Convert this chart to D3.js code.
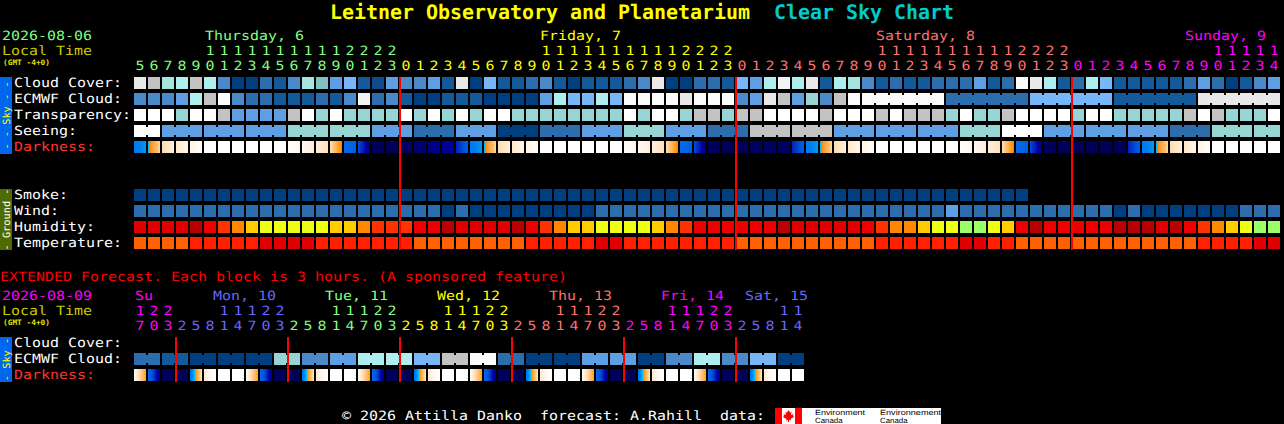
<!DOCTYPE html>
<html><head><meta charset="utf-8">
<script src="https://cdn.jsdelivr.net/npm/d3@7"></script>
<style>
html,body{margin:0;padding:0;background:#000;overflow:hidden}
svg{display:block}
text{font-family:"DejaVu Sans Mono",monospace;font-size:12.8px;white-space:pre;text-rendering:geometricPrecision}
</style></head><body>
<script>
// ---------- main forecast: 82 hourly blocks ----------
const hours=[5,6,7,8,9,10,11,12,13,14,15,16,17,18,19,20,21,22,23,
0,1,2,3,4,5,6,7,8,9,10,11,12,13,14,15,16,17,18,19,20,21,22,23,
0,1,2,3,4,5,6,7,8,9,10,11,12,13,14,15,16,17,18,19,20,21,22,23,
0,1,2,3,4,5,6,7,8,9,10,11,12,13,14];
const hourDays=[0,0,0,0,0,0,0,0,0,0,0,0,0,0,0,0,0,0,0,
1,1,1,1,1,1,1,1,1,1,1,1,1,1,1,1,1,1,1,1,1,1,1,1,
2,2,2,2,2,2,2,2,2,2,2,2,2,2,2,2,2,2,2,2,2,2,2,2,
3,3,3,3,3,3,3,3,3,3,3,3,3,3,3];
const dayNames=["Thursday, 6","Friday, 7","Saturday, 8","Sunday, 9"];
const dayLabelX=[205,540,876,1185];
const dayBreaks=[19,43,67];
const cloudCover=[90,80,65,70,80,70,30,0,0,20,10,30,65,60,40,50,10,5,40,
30,30,40,10,90,0,50,10,10,20,30,10,0,10,10,10,20,30,90,0,0,20,20,10,
50,40,70,95,70,90,10,70,65,30,10,20,10,10,20,20,20,40,10,20,100,90,70,10,
20,70,50,10,10,10,10,10,20,40,20,0,10,30,40];
const ecmwfCloud=[30,30,30,40,70,80,100,30,20,20,10,10,10,20,10,30,95,20,30,
10,0,0,10,10,10,0,0,0,0,40,70,50,50,70,50,100,100,100,100,90,100,100,100,
30,40,90,80,40,62,30,80,100,100,100,100,100,100,100,20,20,20,20,20,20,50,50,50,
50,50,50,10,10,10,10,10,10,90,90,90,90,90,90];
const transparency=[5,5,5,2,5,5,4,3,3,3,3,4,5,2,5,2,2,2,2,
5,2,5,2,5,2,5,5,2,2,2,2,2,2,2,2,5,2,5,5,2,4,4,2,
4,4,5,5,5,5,4,5,5,5,4,5,4,4,4,2,5,2,2,4,5,5,5,5,
2,5,5,2,2,2,2,2,4,5,4,2,2,2,5];
const seeing=[5,5,3,3,3,3,3,3,3,3,3,2,2,2,2,2,2,3,3,
3,1,1,1,3,3,3,0,0,0,1,1,1,3,3,3,2,2,2,3,3,3,1,1,
1,4,4,4,4,4,4,3,3,3,3,3,3,3,3,3,2,2,2,5,5,5,3,3,
3,3,3,3,3,3,3,1,1,1,2,2,2,2,2];
const darkFrom=[5.7,6.6,8.8,9.2,9.6,10,10,10,10,10,10,10,9.8,9.4,8.9,5.2,4,1,1,
1,1.4,1.7,2,3,5.7,6.6,8.8,9.2,9.6,10,10,10,10,10,10,10,9.8,9.4,8.9,5.2,4,1,1,
1,1.1,1.2,1.2,3,5.7,6.6,8.8,9.2,9.6,10,10,10,10,10,10,10,9.8,9.4,8.9,5.2,4,1,1,
1,1,1,1,3,5.7,6.6,8.8,9.2,9.6,10,10,10,10,10];
const darkTo=[6.3,8.7,9.4,9.7,9.95,10,10,10,10,10,10,9.7,9.4,8.9,6.8,4.7,1.5,1,1,
1.4,1.7,2,2.2,4.6,6.3,8.7,9.4,9.7,9.95,10,10,10,10,10,10,9.7,9.4,8.9,6.8,4.7,1.5,1,1,
1.1,1.2,1.2,1.2,4.6,6.3,8.7,9.4,9.7,9.95,10,10,10,10,10,10,9.7,9.4,8.9,6.8,4.7,1.5,1,1,
1,1,1,1,4.6,6.3,8.7,9.4,9.7,9.95,10,10,10,10,10];
const smoke=[0,0,0,0,0,0,0,0,0,0,0,0,0,0,0,0,0,0,0,0,0,0,0,0,0,0,0,0,0,0,0,0,
0,0,0,0,0,0,0,0,0,0,0,0,0,0,0,0,0,0,0,0,0,0,0,0,0,0,0,0,0,0,0,0];
const wind=[1,1,1,1,1,1,1,1,1,1,1,1,1,1,1,1,1,1,1,
1,1,1,0,1,0,0,0,0,0,0,0,0,0,1,1,1,1,1,1,1,1,1,1,
1,1,1,1,1,1,1,1,1,1,1,1,1,1,1,2,1,1,1,1,1,1,1,1,
1,1,1,0,1,0,0,0,0,0,0,0,1,1,1];
const humidity=[95,95,95,95,100,90,85,80,75,70,70,70,70,70,75,75,80,85,85,
85,90,90,100,95,95,95,95,100,90,85,80,75,75,70,70,70,70,75,80,85,90,90,90,
90,90,90,100,95,95,95,95,95,90,85,80,80,75,70,70,65,65,70,75,90,100,90,90,
90,90,90,100,100,100,95,100,90,85,80,75,70,65,65];
const temperature=[20,20,20,20,25,25,25,25,25,30,30,30,30,25,25,25,25,25,25,
25,20,20,20,20,20,20,20,20,25,25,25,25,25,30,30,25,25,25,25,25,25,25,25,
20,20,20,20,20,20,20,20,20,20,25,25,25,25,25,25,30,30,25,25,20,20,20,20,
20,20,20,20,20,20,20,20,20,25,25,25,25,30,30];
// ---------- extended forecast: 48 blocks of 3 hours ----------
const extHours=[17,20,23,2,5,8,11,14,17,20,23,2,5,8,11,14,17,20,23,2,5,8,11,14,
17,20,23,2,5,8,11,14,17,20,23,2,5,8,11,14,17,20,23,2,5,8,11,14];
const extHourDays=[0,0,0,1,1,1,1,1,1,1,1,2,2,2,2,2,2,2,2,3,3,3,3,3,
3,3,3,4,4,4,4,4,4,4,4,5,5,5,5,5,5,5,5,6,6,6,6,6];
const extDayNames=["Su","Mon, 10","Tue, 11","Wed, 12","Thu, 13","Fri, 14","Sat, 15"];
const extDayLabelX=[135,213,325,437,549,661,745];
const extDayBreaks=[3,11,19,27,35,43];
const extEcmwf=[20,20,10,10,0,0,0,0,0,0,62,62,30,30,40,40,70,70,70,70,50,50,80,80,
100,100,20,20,0,0,0,0,40,40,40,40,0,0,30,30,70,70,30,30,50,50,0,0];
const extDarkFrom=[9.9,5.2,1,1,5.3,9.3,10,10,9.9,5.2,1,1,5.3,9.3,10,10,9.9,5.2,1,1,5.3,9.3,10,10,
9.9,5.2,1,1,5.3,9.3,10,10,9.9,5.2,1,1,5.3,9.3,10,10,9.9,5.2,1,1,5.3,9.3,10,10];
const extDarkTo=[7.4,1.6,1,1,9.1,10,10,10,7.4,1.6,1,1,9.1,10,10,10,7.4,1.6,1,1,9.1,10,10,10,
7.4,1.6,1,1,9.1,10,10,10,7.4,1.6,1,1,9.1,10,10,10,7.4,1.6,1,1,9.1,10,10,10];
// ---------- text and palette ----------
const mainDayColors=["#80ff80","#ffff00","#ff7070","#ff00ff"];
const extDayColors=["#ff00ff","#6666ff","#80ff80","#ffff00","#ff7070","#ff00ff","#6666ff"];
const cloudLevels=[0,5,10,20,30,40,50,60,62,65,70,80,90,95,100];
const cloudColors=["#003f7f","#0f4a8a","#135a9b","#2c6dad","#4a8aca","#5e9fe3","#77b6f9","#80c0c0","#97d5d5","#a5e5e0","#aeeeee","#c3c3c3","#e8e8e8","#f4f4f4","#fbfbfb"];
const skyLevels=[0,1,2,3,4,5];
const skyColors=["#003f7f","#2c6dad","#97d5d5","#5e9fe3","#c3c3c3","#ffffff"];
const windLevels=[0,1,2];
const windColors=["#003f7f","#2c6dad","#5e9fe3"];
const humLevels=[65,70,75,80,85,90,95,100];
const humColors=["#99ff66","#eeff15","#ffcc00","#ff8800","#ff3300","#ee0000","#e00000","#b80000"];
const tempLevels=[20,25,30];
const tempColors=["#ff6000","#ff2000","#e00000"];
const darkLevels=[0,1,1.6,2,2.5,3,4,5,6,6.85,7,8,9,9.6,10];
const darkColors=["#000040","#000058","#000070","#000090","#0000a8","#0020c0","#0050d8","#0066e6","#0080f0","#00c8ff","#ff9010","#ffb860","#ffe4c0","#fff4e6","#ffffff"];

const W=1284,H=424,CELL=12,STEP=14,X0=134,ADV=9;
const svg=d3.select("body").append("svg").attr("width",W).attr("height",H);
const defs=svg.append("defs");
svg.append("rect").attr("width",W).attr("height",H).attr("fill","#000");

const x=d3.scaleLinear().domain([0,1]).range([X0,X0+STEP]);
const cloudScale=d3.scaleOrdinal(cloudLevels,cloudColors);
const transScale=d3.scaleOrdinal(skyLevels,skyColors);
const windScale=d3.scaleOrdinal(windLevels,windColors);
const humScale=d3.scaleOrdinal(humLevels,humColors);
const tempScale=d3.scaleOrdinal(tempLevels,tempColors);
const darkScale=d3.scaleLinear().domain(darkLevels).range(darkColors).interpolate(d3.interpolateRgb);

function label(t,px,py,fill,opts={}){
  const adv=opts.adv||ADV;
  const s=svg.append("text").attr("x",px).attr("y",py).attr("fill",fill).text(t)
    .attr("textLength",t.length*adv).attr("lengthAdjust","spacingAndGlyphs");
  if(opts.size)s.style("font-size",opts.size+"px");
  if(opts.bold)s.style("font-weight","bold");
  if(opts.family)s.style("font-family",opts.family);
  if(opts.rotate){s.attr("text-anchor","middle").attr("transform",`rotate(-90 ${px} ${py})`);}
  return s;
}
function row(values,scale,y,links){
  const g=svg.append("g");
  g.selectAll("rect.c").data(values).join("rect").attr("class","c")
    .attr("x",(d,i)=>x(i)).attr("y",y).attr("width",CELL).attr("height",CELL).attr("fill",d=>scale(d));
  if(links)g.selectAll("rect.l").data(values.slice(0,-1).map((d,i)=>({d,i})).filter(o=>links(o.i))).join("rect").attr("class","l")
    .attr("x",o=>x(o.i)+CELL).attr("y",y+2).attr("width",STEP-CELL).attr("height",CELL-4).attr("fill",o=>scale(o.d));
}
function darkRow(from,to,y,id){
  const stops=d3.range(0,1.0001,0.1);
  const grads=defs.selectAll("linearGradient."+id).data(from).join("linearGradient").attr("class",id)
    .attr("id",(d,i)=>id+i);
  grads.selectAll("stop").data((d,i)=>stops.map(t=>({t,c:darkScale(d+(to[i]-d)*t)}))).join("stop")
    .attr("offset",s=>s.t).attr("stop-color",s=>s.c);
  svg.append("g").selectAll("rect").data(from).join("rect")
    .attr("x",(d,i)=>x(i)).attr("y",y).attr("width",CELL).attr("height",CELL).attr("fill",(d,i)=>`url(#${id}${i})`);
}
function hourRows(hs,days,colors,yTens,yOnes){
  const g=svg.append("g");
  g.selectAll("text.o").data(hs).join("text").attr("class","o")
    .attr("x",(d,i)=>x(i)+CELL/2-ADV/2).attr("y",yOnes).attr("fill",(d,i)=>colors[days[i]]).text(d=>d%10)
    .attr("textLength",ADV).attr("lengthAdjust","spacingAndGlyphs");
  g.selectAll("text.t").data(hs.map((d,i)=>({d,i})).filter(o=>o.d>=10)).join("text").attr("class","t")
    .attr("x",o=>x(o.i)+CELL/2-ADV/2).attr("y",yTens).attr("fill",o=>colors[days[o.i]]).text(o=>Math.floor(o.d/10))
    .attr("textLength",ADV).attr("lengthAdjust","spacingAndGlyphs");
}
function sidebar(y,h,fill,textFill,t){
  svg.append("rect").attr("x",0).attr("y",y).attr("width",12).attr("height",h).attr("fill",fill);
  label(t,10,y+h/2,textFill,{size:10,adv:6.2,rotate:true});
}
// title
label("Leitner Observatory and Planetarium",330,18.5,"#ffff00",{size:20,bold:true,adv:12});
label("Clear Sky Chart",774,18.5,"#00cccc",{size:20,bold:true,adv:12});
// header
label("2026-08-06",2,40,"#80ff80");
label("Local Time",2,55,"#c8c800");
label("(GMT -4+0)",3,65,"#e0e000",{size:7.5,adv:4.7,bold:true});
dayNames.forEach((n,i)=>label(n,dayLabelX[i],40,mainDayColors[i]));
hourRows(hours,hourDays,mainDayColors,55,70);
// rows
const rowY=d3.scaleOrdinal(["cloud","ecmwf","trans","seeing","dark","smoke","wind","hum","temp"],[77,93,109,125,141,189,205,221,237]);
[["Cloud Cover:","cloud","#fff"],["ECMWF Cloud:","ecmwf","#fff"],["Transparency:","trans","#fff"],["Seeing:","seeing","#fff"],["Darkness:","dark","#ff3333"],
 ["Smoke:","smoke","#fff"],["Wind:","wind","#fff"],["Humidity:","hum","#fff"],["Temperature:","temp","#fff"]]
 .forEach(([t,k,c])=>label(t,14,rowY(k)+9.5,c));
sidebar(77,77,"#0066ee","#ffff00","- - Sky - -");
sidebar(189,61,"#4f6b00","#ffffff","- Ground -");
row(cloudCover,cloudScale,rowY("cloud"));
row(ecmwfCloud,cloudScale,rowY("ecmwf"),i=>i>=52&&(i-51)%6!==0);
row(transparency,transScale,rowY("trans"));
row(seeing,transScale,rowY("seeing"),i=>(i+1)%3!==2);
darkRow(darkFrom,darkTo,rowY("dark"),"dm");
row(smoke,windScale,rowY("smoke"));
row(wind,windScale,rowY("wind"));
row(humidity,humScale,rowY("hum"));
row(temperature,tempScale,rowY("temp"));
svg.append("g").selectAll("rect").data(dayBreaks).join("rect")
  .attr("x",d=>x(d)-1).attr("y",77).attr("width",2).attr("height",173).attr("fill","#ff0000");
// extended
label("EXTENDED Forecast. Each block is 3 hours. (A sponsored feature)",0,281,"#ff0000");
label("2026-08-09",2,300,"#ff00ff");
label("Local Time",2,315,"#c8c800");
label("(GMT -4+0)",3,325,"#e0e000",{size:7.5,adv:4.7,bold:true});
extDayNames.forEach((n,i)=>label(n,extDayLabelX[i],300,extDayColors[i]));
hourRows(extHours,extHourDays,extDayColors,315,330);
[["Cloud Cover:",346.5,"#fff"],["ECMWF Cloud:",362.5,"#fff"],["Darkness:",378.5,"#ff3333"]].forEach(([t,y,c])=>label(t,14,y,c));
sidebar(337,45,"#0066ee","#ffff00","- Sky -");
row(extEcmwf,cloudScale,353,i=>i%2===0);
darkRow(extDarkFrom,extDarkTo,369,"de");
svg.append("g").selectAll("rect").data(extDayBreaks).join("rect")
  .attr("x",d=>x(d)-1).attr("y",337).attr("width",2).attr("height",45).attr("fill","#ff0000");
// footer
label("© 2026 Attilla Danko  forecast: A.Rahill  data:",342,420,"#ffffff");
svg.append("rect").attr("x",775).attr("y",408).attr("width",166).attr("height",16).attr("fill","#ffffff");
svg.append("rect").attr("x",775).attr("y",408).attr("width",7).attr("height",16).attr("fill","#ff0000");
svg.append("rect").attr("x",795).attr("y",408).attr("width",7).attr("height",16).attr("fill","#ff0000");
svg.append("path").attr("transform","translate(788.5,416)").attr("fill","#ff0000")
  .attr("d","M0,-6L1.5,-3.5L3,-4L2.5,-1L5,-2L4.5,0L5.5,1L2,3L2.5,4.5L0.5,4L0.5,6L-0.5,6L-0.5,4L-2.5,4.5L-2,3L-5.5,1L-4.5,0L-5,-2L-2.5,-1L-3,-4L-1.5,-3.5Z");
[[815,"Environment","Canada",4.55],[880,"Environnement","Canada",4.7]].forEach(([px,a,b,adv])=>{
  label(a,px,414.5,"#000",{size:7.5,adv,family:"'Liberation Sans',sans-serif"});
  label(b,px,423,"#000",{size:7.5,adv:4.6,family:"'Liberation Sans',sans-serif"});
});
</script></body></html>
